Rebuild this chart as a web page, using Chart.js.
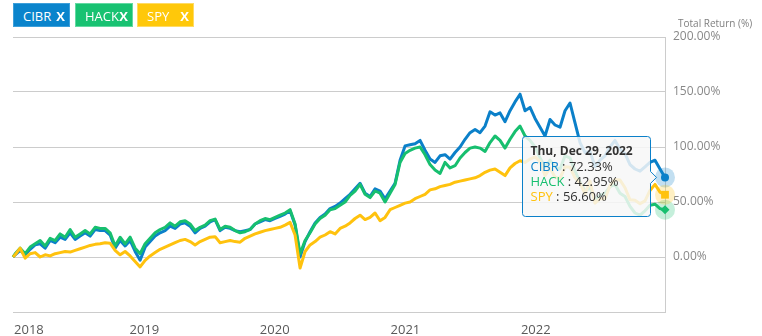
<!DOCTYPE html>
<html>
<head>
<meta charset="utf-8">
<script src="https://cdn.jsdelivr.net/npm/chart.js@4.4.0/dist/chart.umd.min.js"></script>
<style>
  body { margin: 0; background: #fff; }
  #wrap { position: relative; width: 762px; height: 336px; font-family: "Open Sans", sans-serif; }
  #chart { position: absolute; left: 0; top: 0; }
  .tag { position: absolute; top: 3px; height: 24px; width: 57px; box-sizing: border-box;
         color: #fff; font-size: 13px; line-height: 24px; padding-left: 9px; }
  .tag b { position: absolute; right: 4px; top: 0; font-size: 13px; }
  #ytitle { position: absolute; left: 678px; top: 16px; font-size: 10px; line-height: 14px; color: #7f7f7f; }
</style>
</head>
<body>
<div id="wrap">
  <canvas id="chart" width="762" height="336"></canvas>
  <div class="tag" style="left:13px;background:#0a84cc;border:1px solid #3d9fda;">CIBR<b>X</b></div>
  <div class="tag" style="left:75px;width:58px;background:#18c272;border:1px solid #62d9a2;">HACK<b>X</b></div>
  <div class="tag" style="left:137px;background:#ffc80a;border:1px solid #ffdb63;">SPY<b>X</b></div>
  <div id="ytitle">Total Return (%)</div>
</div>
<script>
// total return (%) sampled every two weeks, 2017-12-29 .. 2022-12-29
var seriesNames = ['CIBR', 'HACK', 'SPY'];
var seriesColors = ['#0b80c9', '#17bf6f', '#ffc20e'];

var cibr = [
    0, 2, 6, 2, 7, 11, 12, 8, 15, 13,
    18, 16, 22, 16, 19, 22, 19, 25, 24, 24,
    20, 8, 15, 10, 15, 5, -3, 9, 14, 19,
    22, 24, 28, 26, 30, 31, 28, 22, 26, 28,
    32, 34, 24, 27, 26, 24, 23, 24, 25, 30,
    32, 34, 33, 35, 37, 39, 42, 29, 0, 14,
    23, 31, 36, 39, 44, 46, 49, 53, 57, 62,
    67, 58, 55, 62, 60, 53, 60, 67, 88, 101,
    102, 103, 106, 97, 89, 86, 92, 93, 89, 95,
    100, 107, 113, 116, 113, 119, 132, 129, 131, 123,
    133, 141, 148, 133, 136, 126, 118, 110, 125, 120,
    118, 133, 140, 122, 104, 95, 96, 82, 88, 92,
    100, 106, 98, 94, 84, 80, 78, 82, 86, 88,
    80, 72.33
];
var hack = [
    0, 3, 8, 3, 9, 12, 15, 10, 17, 15,
    21, 18, 25, 18, 21, 24, 21, 27, 26, 26,
    22, 10, 18, 12, 18, 8, 3, 12, 17, 22,
    25, 27, 31, 28, 32, 33, 30, 24, 27, 29,
    33, 34.5, 25, 28, 27, 24, 22, 23, 25, 30,
    33, 35, 34, 36, 38, 40, 43, 30, 3, 15,
    22, 30, 35, 38, 43, 44, 47, 50, 56, 60,
    66, 57, 54, 60, 58, 50, 58, 66, 86, 94,
    97, 99, 100, 93, 84, 79, 76, 86, 81, 83,
    90, 95, 99, 100, 99, 96, 104, 110, 106, 99,
    107, 114, 119, 110, 106, 100, 90, 82, 88, 82,
    80, 92, 90, 78, 68, 60, 63, 52, 56, 58,
    64, 66, 58, 55, 46, 40, 38, 42, 47, 48,
    44, 42.95
];
var spy = [
    0, 2, 8, -1, 3, 4, 0, 2, 1, 3,
    4, 5, 4.5, 6, 7.5, 9, 10.5, 11.5, 12, 13,
    12.5, 6, 2, 5, 1, -4, -9, -3, 1, 4,
    7, 9, 11, 13, 15, 16, 14, 11, 14, 16,
    18, 18.5, 13, 14, 15, 14, 13.5, 17, 19, 21,
    22.5, 24, 25, 26, 27, 29, 31.5, 20, -10, 5,
    11, 14, 18, 20, 23, 21, 26, 28, 31, 35,
    38, 34, 36, 40, 33, 36, 43, 45, 47, 49,
    50, 53, 55, 57, 61, 62, 64, 65, 66, 68,
    69, 70, 71, 72, 74, 77, 79, 80, 77, 74,
    81, 85, 87.5, 86, 89, 91, 87, 74, 81, 72.5,
    71.5, 82, 81.5, 72, 67, 57.5, 69, 49, 53, 53,
    65, 70.5, 70, 63, 52, 51.5, 48.5, 51, 60.5, 66,
    59, 56.6
];

var dayMs = 86400000;
var dates = [Date.UTC(2017, 11, 29)];
for (var i = 0; i < 131; i++) {
    dates.push(Date.UTC(2018, 0, 4) + i * 14 * dayMs);
}
var lastIdx = dates.length - 1;

var yearLabels = ['2018', '2019', '2020', '2021', '2022'];
var yTickValues = [-50, 0, 50, 100, 150, 200];

var dayNames = ['Sun', 'Mon', 'Tue', 'Wed', 'Thu', 'Fri', 'Sat'];
var monthNames = ['Jan', 'Feb', 'Mar', 'Apr', 'May', 'Jun', 'Jul', 'Aug', 'Sep', 'Oct', 'Nov', 'Dec'];

function toPoints(values){
    var pts = [];
    for (var k = 0; k < values.length; k++) {
        pts.push({x: dates[k], y: values[k]});
    }
    return pts;
}

function formatDate(ms){
    var d = new Date(ms);
    return dayNames[d.getUTCDay()] + ', ' + monthNames[d.getUTCMonth()] + ' ' +
        d.getUTCDate() + ', ' + d.getUTCFullYear();
}

function makeDataset(idx, values, style, radius, order){
    return {
        label: seriesNames[idx],
        data: toPoints(values),
        borderColor: seriesColors[idx],
        backgroundColor: seriesColors[idx],
        borderWidth: 3,
        borderJoinStyle: 'round',
        tension: 0,
        clip: false,
        order: order,
        pointStyle: style,
        pointBorderWidth: 0,
        pointRadius: function(c){ return c.dataIndex === lastIdx ? radius : 0; }
    };
}

// halo behind the hovered points + the shared tooltip box
var hoverPlugin = {
    id: 'hoverPlugin',
    beforeDatasetsDraw: function(chart){
        var ctx = chart.ctx;
        for (var i = 0; i < seriesNames.length; i++) {
            var pt = chart.getDatasetMeta(i).data[lastIdx];
            ctx.save();
            ctx.globalAlpha = 0.25;
            ctx.fillStyle = seriesColors[i];
            ctx.beginPath();
            ctx.arc(pt.x, pt.y, 10, 0, Math.PI * 2);
            ctx.fill();
            ctx.restore();
        }
    },
    afterDatasetsDraw: function(chart){
        var ctx = chart.ctx;
        var p0 = chart.getDatasetMeta(0).data[lastIdx];
        var right = Math.round(p0.x - 15) + 0.5;
        var left = right - 128;
        var top = Math.round(p0.y - 41) + 0.5;
        var bottom = top + 80;
        var ay = p0.y;
        var r = 3;

        ctx.save();
        ctx.beginPath();
        ctx.moveTo(left + r, top);
        ctx.lineTo(right - r, top);
        ctx.arcTo(right, top, right, top + r, r);
        ctx.lineTo(right, ay - 6);
        ctx.lineTo(right + 6, ay);
        ctx.lineTo(right, ay + 6);
        ctx.lineTo(right, bottom - r);
        ctx.arcTo(right, bottom, right - r, bottom, r);
        ctx.lineTo(left + r, bottom);
        ctx.arcTo(left, bottom, left, bottom - r, r);
        ctx.lineTo(left, top + r);
        ctx.arcTo(left, top, left + r, top, r);
        ctx.closePath();
        ctx.fillStyle = 'rgba(247,247,247,0.85)';
        ctx.fill();
        ctx.strokeStyle = seriesColors[0];
        ctx.lineWidth = 1;
        ctx.stroke();

        var tx = left + 8;
        ctx.textBaseline = 'middle';
        ctx.textAlign = 'left';
        ctx.fillStyle = '#333333';
        ctx.font = 'bold 12px "Open Sans"';
        ctx.fillText(formatDate(dates[lastIdx]), tx, top + 15);

        var values = [cibr, hack, spy];
        ctx.font = '13px "Open Sans"';
        for (var i = 0; i < seriesNames.length; i++) {
            var ly = top + 31 + i * 14.7;
            ctx.fillStyle = seriesColors[i];
            ctx.fillText(seriesNames[i], tx, ly);
            var w = ctx.measureText(seriesNames[i]).width;
            ctx.fillStyle = '#333333';
            ctx.fillText(' : ' + values[i][lastIdx].toFixed(2) + '%', tx + w, ly);
        }
        ctx.restore();
    }
};

var config = {
    type: 'line',
    data: {
        datasets: [
            makeDataset(0, cibr, 'circle', 4, 3),
            makeDataset(1, hack, 'rectRot', 4.5, 2),
            makeDataset(2, spy, 'rect', 5.5, 1)
        ]
    },
    options: {
        responsive: false,
        animation: false,
        events: [],
        layout: { padding: { left: 13, top: 37, right: 0, bottom: 0 } },
        plugins: {
            legend: { display: false },
            tooltip: { enabled: false }
        },
        scales: {
            x: {
                type: 'linear',
                min: dates[0],
                max: dates[lastIdx],
                grid: { display: false, drawTicks: false },
                border: { display: true, color: '#cccccc' },
                afterBuildTicks: function(scale){
                    var t = yearLabels.map(function(y){ return {value: Date.UTC(+y, 0, 1)}; });
                    t.push({value: dates[lastIdx]});
                    scale.ticks = t;
                },
                afterFit: function(scale){ scale.height = 24; },
                ticks: {
                    autoSkip: false,
                    maxRotation: 0,
                    align: 'inner',
                    padding: 10,
                    color: '#595959',
                    font: { family: 'Open Sans', size: 13 },
                    callback: function(v, i){ return i < yearLabels.length ? yearLabels[i] : ''; }
                }
            },
            y: {
                position: 'right',
                min: -50,
                max: 200,
                afterBuildTicks: function(scale){
                    scale.ticks = yTickValues.map(function(v){ return {value: v}; });
                },
                afterFit: function(scale){ scale.width = 97; },
                grid: { color: '#cccccc', drawTicks: false },
                border: { display: true, color: '#cccccc' },
                ticks: {
                    padding: 8,
                    color: '#888888',
                    font: { family: 'Open Sans', size: 12 },
                    callback: function(v){ return v === -50 ? '' : v.toFixed(2) + '%'; }
                }
            }
        }
    },
    plugins: [hoverPlugin]
};

var chart = new Chart(document.getElementById('chart').getContext('2d'), config);
</script>
</body>
</html>
